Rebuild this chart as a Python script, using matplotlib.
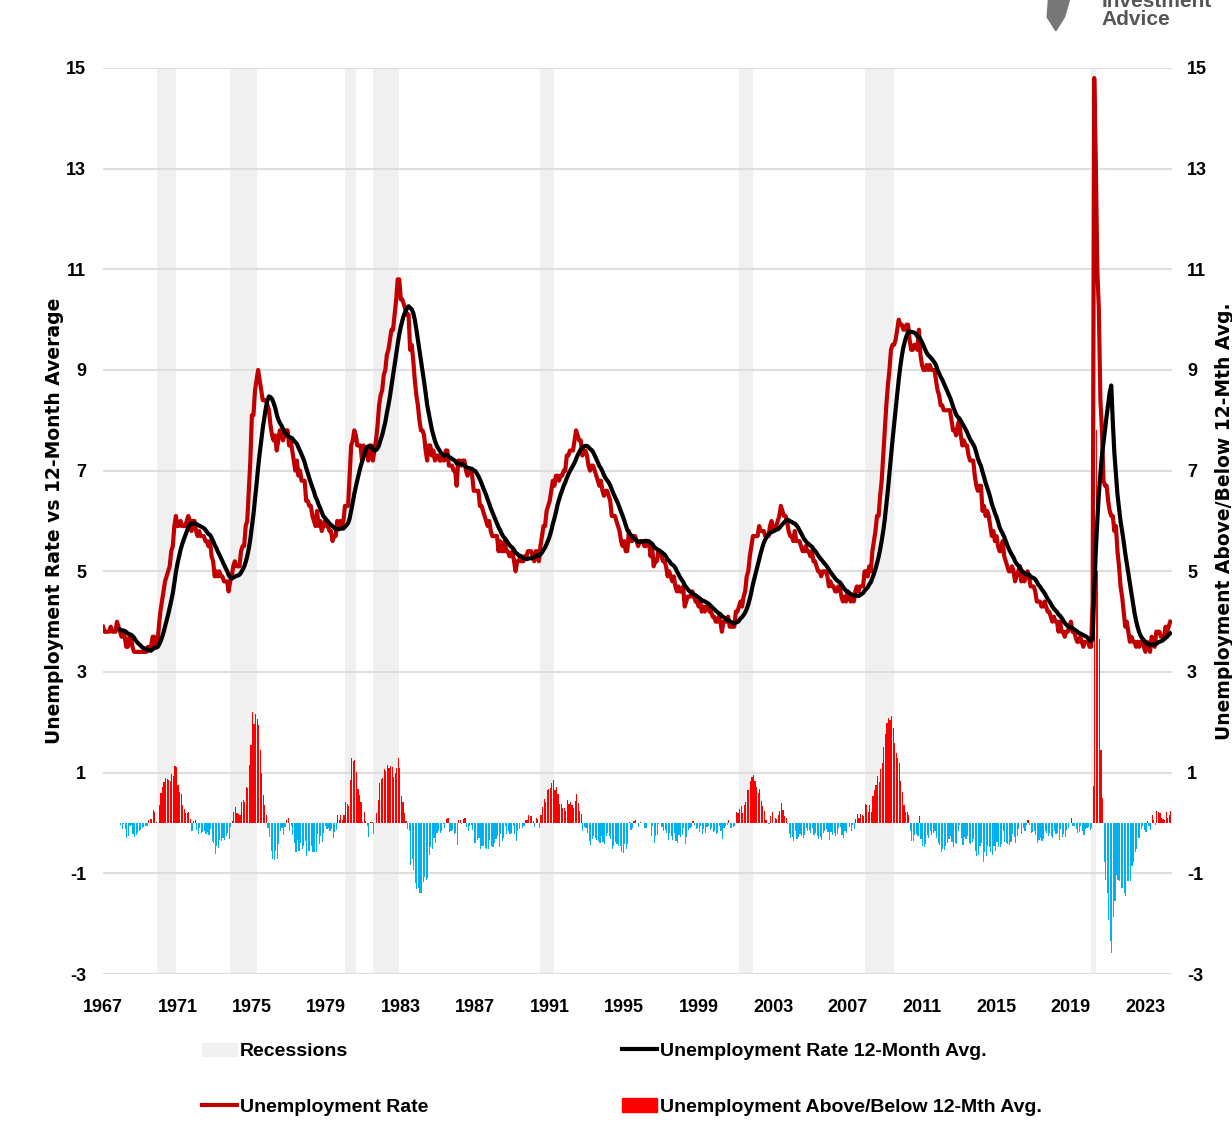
import numpy as np
import pandas as pd
import matplotlib
matplotlib.use("Agg")
import matplotlib.pyplot as plt
from matplotlib.patches import Patch, Polygon
from matplotlib.lines import Line2D

plt.rcParams["axes.unicode_minus"] = False

# Monthly US unemployment rate (%), Jan 1967 - May 2024
unrate = [
    3.9, 3.8, 3.8, 3.8, 3.8, 3.9, 3.8, 3.8, 3.8, 4.0, 3.9, 3.8,   # 1967
    3.7, 3.8, 3.7, 3.5, 3.5, 3.7, 3.7, 3.5, 3.4, 3.4, 3.4, 3.4,   # 1968
    3.4, 3.4, 3.4, 3.4, 3.4, 3.5, 3.5, 3.5, 3.7, 3.7, 3.5, 3.5,   # 1969
    3.9, 4.2, 4.4, 4.6, 4.8, 4.9, 5.0, 5.1, 5.4, 5.5, 5.9, 6.1,   # 1970
    5.9, 5.9, 6.0, 5.9, 5.9, 5.9, 6.0, 6.1, 6.0, 5.8, 6.0, 6.0,   # 1971
    5.8, 5.7, 5.8, 5.7, 5.7, 5.7, 5.6, 5.6, 5.5, 5.6, 5.3, 5.2,   # 1972
    4.9, 5.0, 4.9, 5.0, 4.9, 4.9, 4.8, 4.8, 4.8, 4.6, 4.8, 4.9,   # 1973
    5.1, 5.2, 5.1, 5.1, 5.1, 5.4, 5.5, 5.5, 5.9, 6.0, 6.6, 7.2,   # 1974
    8.1, 8.1, 8.6, 8.8, 9.0, 8.8, 8.6, 8.4, 8.4, 8.4, 8.3, 8.2,   # 1975
    7.9, 7.7, 7.6, 7.7, 7.4, 7.6, 7.8, 7.8, 7.6, 7.7, 7.8, 7.8,   # 1976
    7.5, 7.6, 7.4, 7.2, 7.0, 7.2, 6.9, 7.0, 6.8, 6.8, 6.8, 6.4,   # 1977
    6.4, 6.3, 6.3, 6.1, 6.0, 5.9, 6.2, 5.9, 6.0, 5.8, 5.9, 6.0,   # 1978
    5.9, 5.9, 5.8, 5.8, 5.6, 5.7, 5.7, 6.0, 5.9, 6.0, 5.9, 6.0,   # 1979
    6.3, 6.3, 6.3, 6.9, 7.5, 7.6, 7.8, 7.7, 7.5, 7.5, 7.5, 7.2,   # 1980
    7.5, 7.4, 7.4, 7.2, 7.5, 7.5, 7.2, 7.4, 7.6, 7.9, 8.3, 8.5,   # 1981
    8.6, 8.9, 9.0, 9.3, 9.4, 9.6, 9.8, 9.8, 10.1, 10.4, 10.8, 10.8,  # 1982
    10.4, 10.4, 10.3, 10.2, 10.1, 10.1, 9.4, 9.5, 9.2, 8.8, 8.5, 8.3,  # 1983
    8.0, 7.8, 7.8, 7.7, 7.4, 7.2, 7.5, 7.5, 7.3, 7.4, 7.2, 7.3,   # 1984
    7.3, 7.2, 7.2, 7.3, 7.2, 7.4, 7.4, 7.1, 7.1, 7.1, 7.0, 7.0,   # 1985
    6.7, 7.2, 7.2, 7.1, 7.2, 7.2, 7.0, 6.9, 7.0, 7.0, 6.9, 6.6,   # 1986
    6.6, 6.6, 6.6, 6.3, 6.3, 6.2, 6.1, 6.0, 5.9, 6.0, 5.8, 5.7,   # 1987
    5.7, 5.7, 5.7, 5.4, 5.6, 5.4, 5.4, 5.6, 5.4, 5.4, 5.3, 5.3,   # 1988
    5.4, 5.2, 5.0, 5.2, 5.2, 5.3, 5.2, 5.2, 5.3, 5.3, 5.4, 5.4,   # 1989
    5.4, 5.3, 5.2, 5.4, 5.4, 5.2, 5.5, 5.7, 5.9, 5.9, 6.2, 6.3,   # 1990
    6.4, 6.6, 6.8, 6.7, 6.9, 6.9, 6.8, 6.9, 6.9, 7.0, 7.0, 7.3,   # 1991
    7.3, 7.4, 7.4, 7.4, 7.6, 7.8, 7.7, 7.6, 7.6, 7.3, 7.4, 7.4,   # 1992
    7.3, 7.1, 7.0, 7.1, 7.1, 7.0, 6.9, 6.8, 6.7, 6.8, 6.6, 6.5,   # 1993
    6.6, 6.6, 6.5, 6.4, 6.1, 6.1, 6.1, 6.0, 5.9, 5.8, 5.6, 5.5,   # 1994
    5.6, 5.4, 5.4, 5.8, 5.6, 5.6, 5.7, 5.7, 5.6, 5.5, 5.6, 5.6,   # 1995
    5.6, 5.5, 5.5, 5.6, 5.6, 5.3, 5.5, 5.1, 5.2, 5.2, 5.4, 5.4,   # 1996
    5.3, 5.2, 5.2, 5.1, 4.9, 5.0, 4.9, 4.8, 4.9, 4.7, 4.6, 4.7,   # 1997
    4.6, 4.6, 4.7, 4.3, 4.4, 4.5, 4.5, 4.5, 4.6, 4.5, 4.4, 4.4,   # 1998
    4.3, 4.4, 4.2, 4.3, 4.2, 4.3, 4.3, 4.2, 4.2, 4.1, 4.1, 4.0,   # 1999
    4.0, 4.1, 4.0, 3.8, 4.0, 4.0, 4.0, 4.1, 3.9, 3.9, 3.9, 3.9,   # 2000
    4.2, 4.2, 4.3, 4.4, 4.3, 4.5, 4.6, 4.9, 5.0, 5.3, 5.5, 5.7,   # 2001
    5.7, 5.7, 5.7, 5.9, 5.8, 5.8, 5.8, 5.7, 5.7, 5.7, 5.9, 6.0,   # 2002
    5.8, 5.9, 5.9, 6.0, 6.1, 6.3, 6.2, 6.1, 6.1, 6.0, 5.8, 5.7,   # 2003
    5.7, 5.6, 5.8, 5.6, 5.6, 5.6, 5.5, 5.4, 5.4, 5.5, 5.4, 5.4,   # 2004
    5.3, 5.4, 5.2, 5.2, 5.1, 5.0, 5.0, 4.9, 5.0, 5.0, 5.0, 4.9,   # 2005
    4.7, 4.8, 4.7, 4.7, 4.6, 4.6, 4.7, 4.7, 4.5, 4.4, 4.5, 4.4,   # 2006
    4.6, 4.5, 4.4, 4.5, 4.4, 4.6, 4.7, 4.6, 4.7, 4.7, 4.7, 5.0,   # 2007
    5.0, 4.9, 5.1, 5.0, 5.4, 5.6, 5.8, 6.1, 6.1, 6.5, 6.8, 7.3,   # 2008
    7.8, 8.3, 8.7, 9.0, 9.4, 9.5, 9.5, 9.6, 9.8, 10.0, 9.9, 9.9,  # 2009
    9.8, 9.8, 9.9, 9.9, 9.6, 9.4, 9.4, 9.5, 9.5, 9.4, 9.8, 9.3,   # 2010
    9.1, 9.0, 9.0, 9.1, 9.0, 9.1, 9.0, 9.0, 9.0, 8.8, 8.6, 8.5,   # 2011
    8.3, 8.3, 8.2, 8.2, 8.2, 8.2, 8.2, 8.0, 7.8, 7.8, 7.7, 7.9,   # 2012
    8.0, 7.7, 7.5, 7.6, 7.5, 7.5, 7.3, 7.2, 7.2, 7.2, 6.9, 6.7,   # 2013
    6.6, 6.7, 6.7, 6.2, 6.3, 6.1, 6.2, 6.1, 5.9, 5.7, 5.8, 5.6,   # 2014
    5.7, 5.5, 5.4, 5.4, 5.6, 5.3, 5.2, 5.1, 5.0, 5.0, 5.1, 5.0,   # 2015
    4.8, 4.9, 5.0, 5.1, 4.8, 4.9, 4.8, 4.9, 5.0, 4.9, 4.7, 4.7,   # 2016
    4.7, 4.6, 4.4, 4.4, 4.4, 4.3, 4.3, 4.4, 4.3, 4.2, 4.2, 4.1,   # 2017
    4.0, 4.1, 4.0, 4.0, 3.8, 4.0, 3.8, 3.8, 3.7, 3.8, 3.8, 3.9,   # 2018
    4.0, 3.8, 3.8, 3.7, 3.6, 3.6, 3.7, 3.6, 3.5, 3.6, 3.6, 3.6,   # 2019
    3.5, 3.5, 4.4, 14.8, 13.2, 11.0, 10.2, 8.4, 7.8, 6.8, 6.7, 6.7,  # 2020
    6.4, 6.2, 6.1, 6.1, 5.8, 5.9, 5.4, 5.1, 4.7, 4.5, 4.2, 3.9,   # 2021
    4.0, 3.8, 3.6, 3.7, 3.6, 3.6, 3.5, 3.6, 3.5, 3.6, 3.6, 3.5,   # 2022
    3.4, 3.6, 3.5, 3.4, 3.7, 3.6, 3.5, 3.8, 3.8, 3.8, 3.7, 3.7,   # 2023
    3.7, 3.9, 3.8, 3.9, 4.0,                                      # 2024
]
start_year = 1967

# NBER recessions (decimal years)
rec_start = [1969.92, 1973.83, 1980.0, 1981.5, 1990.5, 2001.17, 2007.92, 2020.08]
rec_end = [1970.92, 1975.25, 1980.58, 1982.92, 1991.25, 2001.92, 2009.5, 2020.33]

year_ticks = list(range(1967, 2024, 4))
y_ticks = [-3, -1, 1, 3, 5, 7, 9, 11, 13, 15]

rate = pd.Series(unrate, dtype=float)
avg12 = rate.rolling(12).mean()
diff = rate - avg12
x = start_year + np.arange(len(rate)) / 12.0

tick_font = {"family": "Liberation Sans", "weight": "bold", "size": 13}

fig = plt.figure(figsize=(12.32, 11.42), dpi=100)
ax = fig.add_axes([0.0836, 0.1471, 0.8675, 0.7934])

for s, e in zip(rec_start, rec_end):
    ax.axvspan(s, e, color="#f0f0f0", zorder=0, lw=0)

bar_cols = np.where(diff >= 0, "#ff0000", "#00b0f0")
ax.bar(x, diff.fillna(0), width=1 / 12 * 0.75, color=bar_cols, align="edge", zorder=2, lw=0)
ax.plot(x, rate, color="#c00000", lw=3, zorder=3)
ax.plot(x, avg12, color="black", lw=3, zorder=4)

ax.set_xlim(1967, x[-1] + 1 / 12)
ax.set_ylim(-3, 15)
ax.set_yticks(y_ticks)
ax.set_xticks(year_ticks)
ax.grid(axis="y", color="#dedede", lw=1.5, zorder=-1)
ax.set_axisbelow(True)
for sp in ax.spines.values():
    sp.set_visible(False)
ax.tick_params(axis="y", length=0, pad=12)
ax.tick_params(axis="x", length=0, pad=18)
for lab in ax.get_xticklabels() + ax.get_yticklabels():
    lab.set_fontproperties(tick_font)

ax2 = ax.twinx()
ax2.set_ylim(-3, 15)
ax2.set_yticks(y_ticks)
for sp in ax2.spines.values():
    sp.set_visible(False)
ax2.tick_params(length=0, pad=11)
for lab in ax2.get_yticklabels():
    lab.set_fontproperties(tick_font)

ax.set_ylabel("Unemployment Rate vs 12-Month Average", fontsize=13.5, fontweight="bold", labelpad=2)
ax2.set_ylabel("Unemployment Above/Below 12-Mth Avg.", fontsize=13.5, fontweight="bold",
               rotation=90, labelpad=6)

leg_font = {"family": "Liberation Sans", "weight": "bold", "size": 14}
col1 = fig.legend([Patch(color="#f0f0f0"), Line2D([], [], color="#c00000", lw=3)],
                  ["Recessions", "Unemployment Rate"],
                  frameon=False, loc="upper left", bbox_to_anchor=(0.164, 0.087),
                  prop=leg_font, handlelength=1.8, handletextpad=0.15,
                  labelspacing=1.95, borderaxespad=0, borderpad=0)
col2 = fig.legend([Line2D([], [], color="black", lw=3), Patch(color="#ff0000")],
                  ["Unemployment Rate 12-Month Avg.", "Unemployment Above/Below 12-Mth Avg."],
                  frameon=False, loc="upper left", bbox_to_anchor=(0.505, 0.087),
                  prop=leg_font, handlelength=1.8, handletextpad=0.15,
                  labelspacing=1.95, borderaxespad=0, borderpad=0)

# logo (partly cut at the top, as in the source)
fig.patches.append(Polygon([[0.851, 1.0], [0.868, 1.0], [0.864, 0.985], [0.857, 0.973], [0.850, 0.985]],
                           closed=True, transform=fig.transFigure, color="#777777"))
fig.text(0.894, 0.983, "Advice", fontsize=15, fontweight="bold", color="#555555",
         family="Liberation Sans", ha="left", va="center")
fig.text(0.894, 0.999, "Investment", fontsize=15, fontweight="bold", color="#555555",
         family="Liberation Sans", ha="left", va="center")

fig.savefig("out.png", dpi=100)
